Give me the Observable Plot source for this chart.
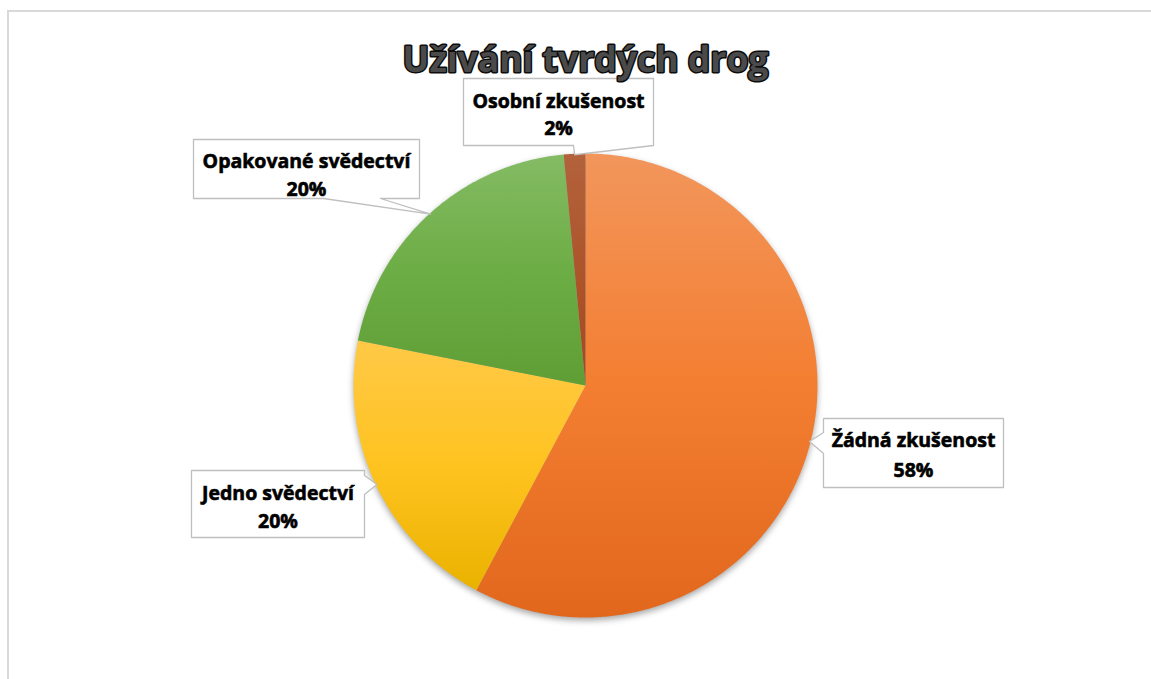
<!DOCTYPE html>
<html><head><meta charset="utf-8">
<script src="https://cdn.jsdelivr.net/npm/d3@7"></script>
<script src="https://cdn.jsdelivr.net/npm/@observablehq/plot@0.6"></script>
<style>
html,body{margin:0;padding:0;background:#fff;}
#wrap{position:relative;width:1151px;height:679px;overflow:hidden;}
#frame{position:absolute;left:7px;top:10px;width:1300px;height:800px;border-top:2px solid #d9d9d9;border-left:2px solid #d9d9d9;}
#chart{position:absolute;left:0;top:0;}
</style></head>
<body><div id="wrap"><div id="frame"></div><div id="chart"></div></div>
<script>
// ---- data ----
const title = "Užívání tvrdých drog";
const categories = ["Žádná zkušenost", "Jedno svědectví", "Opakované svědectví", "Osobní zkušenost"];
const shares = [57.8, 20.3, 20.4, 1.5];
const colorsTop = ["#F2965C", "#FFC947", "#84BB64", "#B3623C"];
const colorsMid = ["#F37E31", "#FFC320", "#6DAD45", "#AD552C"];
const colorsBottom = ["#E1671C", "#EAB200", "#5E9E35", "#A8461C"];

// ---- layout ----
const W = 1151, H = 679;
const pie = {cx: 585, cy: 385, r: 232};
const boxes = [
  {x0: 823, y0: 418, x1: 1003, y1: 487, side: "left",   b0: 432, b1: 453, l1: 446, l2: 476},
  {x0: 191, y0: 470, x1: 364,  y1: 537, side: "right",  b0: 475, b1: 494, l1: 499, l2: 527},
  {x0: 193, y0: 139, x1: 419,  y1: 198, side: "bottom", b0: 323, b1: 380, l1: 167, l2: 195},
  {x0: 463, y0: 78,  x1: 653,  y1: 145, side: "bottom", b0: 573, b1: 653, l1: 107, l2: 134}
];

// ---- geometry from data ----
const arcs = d3.pie().sort(null).startAngle(0).endAngle(2 * Math.PI)(shares);
const px = (a, r) => pie.cx + r * Math.sin(a);
const py = (a, r) => pie.cy - r * Math.cos(a);

const slicePts = arcs.map((a, i) => {
  const pts = [{x: pie.cx, y: pie.cy}];
  const n = Math.max(4, Math.ceil((a.endAngle - a.startAngle) / (Math.PI / 360)));
  for (let k = 0; k <= n; k++) {
    const t = a.startAngle + (a.endAngle - a.startAngle) * k / n;
    pts.push({x: px(t, pie.r), y: py(t, pie.r)});
  }
  pts.push({x: pie.cx, y: pie.cy});
  return pts;
});

function callout(b, tip) {
  const {x0, y0, x1, y1} = b;
  let p;
  if (b.side === "left") p = [[x0,y0],[x1,y0],[x1,y1],[x0,y1],[x0,b.b1],tip,[x0,b.b0],[x0,y0]];
  else if (b.side === "right") p = [[x0,y0],[x1,y0],[x1,b.b0],tip,[x1,b.b1],[x1,y1],[x0,y1],[x0,y0]];
  else p = [[x0,y0],[x1,y0],[x1,y1],[b.b1,y1],tip,[b.b0,y1],[x0,y1],[x0,y0]];
  return p.map(([x, y]) => ({x, y}));
}

const calloutPts = arcs.map((a, i) => {
  const m = (a.startAngle + a.endAngle) / 2;
  return callout(boxes[i], [px(m, pie.r - 1), py(m, pie.r - 1)]);
});

const total = d3.sum(shares);
const labelRows = categories.flatMap((c, i) => {
  const b = boxes[i], xc = (b.x0 + b.x1) / 2;
  return [
    {x: xc, y: b.l1, text: c},
    {x: xc, y: b.l2, text: Math.round(shares[i] / total * 100) + "%"}
  ];
});

const font = "'Open Sans', Lato, sans-serif";

const chart = Plot.plot({
  width: W, height: H,
  margin: 0,
  x: {domain: [0, W], range: [0, W], axis: null},
  y: {domain: [0, H], range: [0, H], axis: null},
  style: {background: "transparent"},
  marks: [
    ...slicePts.map((pts, i) => Plot.line(pts, {x: "x", y: "y", fill: `url(#grad${i})`, stroke: "none"})),
    ...calloutPts.map(pts => Plot.line(pts, {x: "x", y: "y", fill: "white", stroke: "#bfbfbf", strokeWidth: 1.3})),
    Plot.text(labelRows, {x: "x", y: "y", text: "text", lineAnchor: "bottom", textAnchor: "middle",
      fontFamily: font, fontWeight: "bold", fontSize: 19.5, fill: "#000", stroke: "#000", strokeWidth: 0.6,
      letterSpacing: -0.3}),
    Plot.text([title], {x: () => pie.cx, y: () => 71, text: d => d, lineAnchor: "bottom", textAnchor: "middle",
      fontFamily: font, fontWeight: "bold", fontSize: 35.5, fill: "#4a4a4a", stroke: "#0d0d0d", strokeWidth: 3,
      paintOrder: "stroke"})
  ]
});

// gradients & shadow
const svg = d3.select(chart);
const defs = svg.insert("defs", ":first-child");
shares.forEach((_, i) => {
  const g = defs.append("linearGradient").attr("id", `grad${i}`).attr("x1", 0).attr("y1", 0).attr("x2", 0).attr("y2", 1);
  g.append("stop").attr("offset", "0%").attr("stop-color", colorsTop[i]);
  g.append("stop").attr("offset", "50%").attr("stop-color", colorsMid[i]);
  g.append("stop").attr("offset", "100%").attr("stop-color", colorsBottom[i]);
});
const lineGroups = svg.selectAll("g[aria-label='line']").nodes();
const sliceGroups = lineGroups.slice(0, shares.length);
if (sliceGroups.length) {
  const wrapG = svg.insert("g", () => sliceGroups[0]).style("filter", "drop-shadow(0px 3px 3px rgba(0,0,0,0.35))");
  sliceGroups.forEach(n => wrapG.node().appendChild(n));
}

document.getElementById("chart").appendChild(chart);
</script>
</body></html>
